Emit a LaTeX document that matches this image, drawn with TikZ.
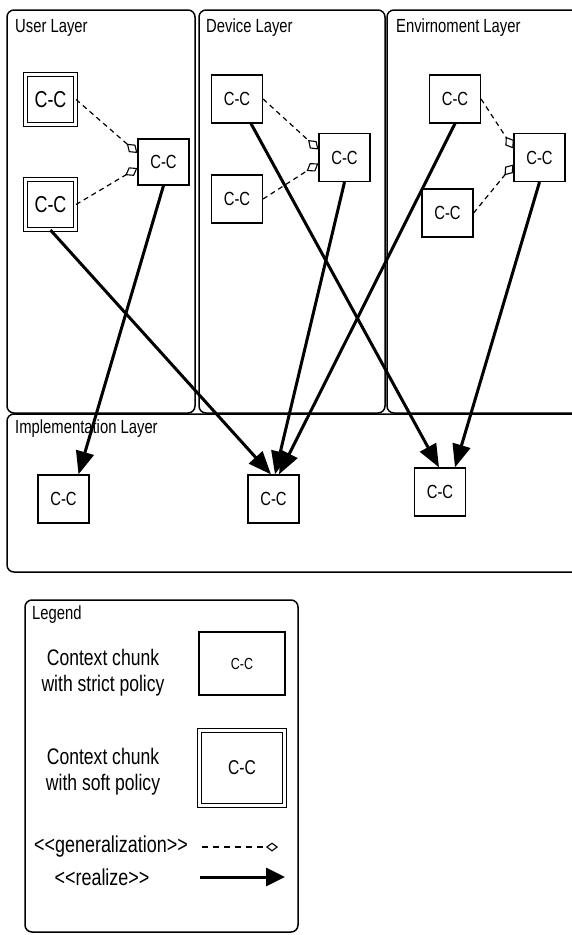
\documentclass[tikz,border=0pt]{standalone}
\usepackage{fontspec}
\setmainfont{Liberation Sans}[FakeStretch=0.78]
\usetikzlibrary{arrows.meta,positioning,calc}

\tikzset{
  layer/.style={draw,line width=1.5pt,rounded corners=7pt},
  laytitle/.style={anchor=base west,inner sep=0pt,font=\fontsize{19}{19}\selectfont},
  strict/.style={draw,line width=1.2pt,fill=white,inner sep=0pt,
    minimum width=51pt,minimum height=48pt,font=\fontsize{19}{19}\selectfont},
  soft/.style={draw,double,double distance=3pt,line width=1.1pt,fill=white,inner sep=0pt,
    minimum width=50pt,minimum height=50pt,font=\fontsize{23}{23}\selectfont},
  realize/.style={line width=3pt,-{Triangle[length=23pt,width=18pt]}},
  general/.style={line width=1.2pt,dash pattern=on 5pt off 4pt,
    -{Diamond[open,length=14pt,width=10pt,line width=1.1pt]}},
  legtext/.style={align=center,inner sep=0pt,font=\fontsize{22.5}{26}\selectfont},
}

\begin{document}
\begin{tikzpicture}[x=1pt,y=-1pt]
  \clip (0,0) rectangle (572,935);
  % ---- layers ----
  \draw[layer] (7,10) rectangle (195,413);
  \draw[layer] (199,10) rectangle (385,413);
  \draw[layer] (387,10) rectangle (600,413);
  \draw[layer] (7,414) rectangle (600,572);
  \node[laytitle] (tuser) at (15,32) {User Layer};
  \node[laytitle] (tdev) at (206,32) {Device Layer};
  \node[laytitle] (tenv) at (396,32) {Envirnoment Layer};
  \node[laytitle] (timpl) at (15,433) {Implementation Layer};
  % ---- user layer chunks ----
  \node[soft] (u1) at (50.5,99.5) {C-C};
  \node[soft] (u2) at (50.5,204.5) {C-C};
  \node[strict,minimum height=46pt] (u3) at (163.5,162) {C-C};
  % ---- device layer chunks ----
  \node[strict] (d1) at (237,99) {C-C};
  \node[strict] (d2) at (237,199) {C-C};
  \node[strict] (d3) at (344.5,157.5) {C-C};
  % ---- environment layer chunks ----
  \node[strict] (e1) at (455,99) {C-C};
  \node[strict] (e2) at (539.5,157.5) {C-C};
  \node[strict] (e3) at (447.5,213) {C-C};
  % ---- implementation layer chunks ----
  \node[strict] (i1) at (63.5,499) {C-C};
  \node[strict] (i2) at (273.5,499) {C-C};
  \node[strict] (i3) at (440,492) {C-C};
  % ---- generalization ----
  \draw[general] (u1.east) -- ([yshift=9pt]u3.west);
  \draw[general] (u2.east) -- ([yshift=-6pt]u3.west);
  \draw[general] (d1.east) -- ([yshift=8pt]d3.west);
  \draw[general] (d2.east) -- ([yshift=-6pt]d3.west);
  \draw[general] (e1.east) -- ([yshift=9pt]e2.west);
  \draw[general] (e3.east) -- ([yshift=-7pt]e2.west);
  % ---- realize ----
  \draw[realize] (u3.south) -- ([xshift=15pt]i1.north);
  \draw[realize] (u2.south) -- ([xshift=-2.5pt]i2.north);
  \draw[realize] ([xshift=14pt]d1.south) -- ([xshift=-1pt]i3.north);
  \draw[realize] (d3.south) -- ([xshift=1.5pt]i2.north);
  \draw[realize] (e1.south) -- ([xshift=5.5pt]i2.north);
  \draw[realize] (e2.south) -- ([xshift=15pt]i3.north);
  % ---- legend ----
  \draw[layer] (25,600) rectangle (298,932);
  \node[laytitle] (tleg) at (32,619) {Legend};
  \node[legtext] (lstrict) at (103,673) {Context chunk\\with strict policy};
  \node[strict,minimum width=86pt,minimum height=63pt,font=\fontsize{16}{16}\selectfont] (bstrict) at (242,663.5) {C-C};
  \node[legtext] (lsoft) at (103,772) {Context chunk\\with soft policy};
  \node[soft,minimum width=85pt,minimum height=75pt,font=\fontsize{20}{20}\selectfont] (bsoft) at (242,768) {C-C};
  \node[legtext,font=\fontsize{23}{23}\selectfont] (lgen) at (111,847) {{<}{<}generalization{>}{>}};
  \node[legtext,font=\fontsize{23}{23}\selectfont] (lreal) at (102,877) {{<}{<}realize{>}{>}};
  \coordinate (gs) at (202,847);
  \coordinate (ge) at (278,847);
  \coordinate (rs) at (200,877);
  \coordinate (re) at (285,877);
  \draw[general,dash pattern=on 6pt off 5pt,-{Diamond[open,length=12pt,width=9pt,line width=1.1pt]}] (gs) -- (ge);
  \draw[realize,-{Triangle[length=19pt,width=18pt]}] (rs) -- (re);
\end{tikzpicture}
\end{document}
